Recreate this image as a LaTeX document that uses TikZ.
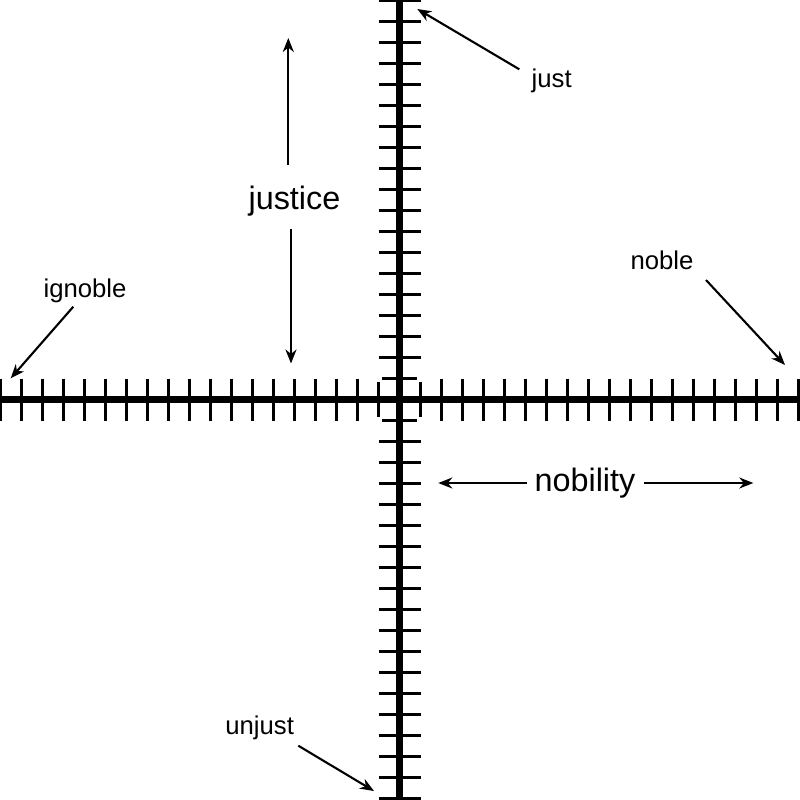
\documentclass[tikz,border=0pt]{standalone}
\usepackage{fontspec}
\setmainfont{Liberation Sans}
\usetikzlibrary{arrows.meta}
\begin{document}
\begin{tikzpicture}[x=1bp,y=-1bp,
  axis/.style={line width=7bp},
  tick/.style={line width=2.7bp},
  pointer/.style={line width=2.1bp,-{Stealth[length=14bp,width=11bp,inset=4.5bp]}},
  small/.style={font=\fontsize{25.8}{30}\selectfont,inner sep=0pt,anchor=base},
  big/.style={font=\fontsize{32.5}{38}\selectfont,inner sep=0pt,anchor=base}]
\useasboundingbox (0,0) rectangle (800,800);
\fill[white] (0,0) rectangle (800,800);
% axes
\draw[axis] (0,399.5) -- (800,399.5);
\draw[axis] (399,0) -- (399,800);
% ticks
\foreach \k in {2,...,19}{
  \draw[tick] (399.5+21*\k,378.5) -- (399.5+21*\k,420.5);
  \draw[tick] (399.5-21*\k,378.5) -- (399.5-21*\k,420.5);
  \draw[tick] (378.5,399.5+21*\k) -- (420.5,399.5+21*\k);
  \draw[tick] (378.5,399.5-21*\k) -- (420.5,399.5-21*\k);
}
\draw[tick] (420.5,382) -- (420.5,417);
\draw[tick] (378.5,382) -- (378.5,417);
\draw[tick] (382,420.5) -- (417,420.5);
\draw[tick] (382,378.5) -- (417,378.5);
% labels
\node[small] (just) at (551.7,87.3) {just};
\node[small] (ignoble) at (85,297.3) {ignoble};
\node[small] (noble) at (662,269.3) {noble};
\node[small] (unjust) at (259.7,734) {unjust};
\node[big] (justice) at (294.5,209) {justice};
\node[big] (nobility) at (585,491.7) {nobility};
% pointer ends
\coordinate (justT) at (519.3,69.3);
\coordinate (justH) at (417.3,9);
\coordinate (ignT) at (73.3,306.7);
\coordinate (ignH) at (10.7,378.3);
\coordinate (nobT) at (706,280);
\coordinate (nobH) at (785,365);
\coordinate (unT) at (298.3,745.7);
\coordinate (unH) at (374,791);
\coordinate (jcUT) at (288.3,165);
\coordinate (jcUH) at (288.3,38);
\coordinate (jcDT) at (291,229.3);
\coordinate (jcDH) at (291,363.5);
\coordinate (nbLT) at (526.7,483);
\coordinate (nbLH) at (438.3,483);
\coordinate (nbRT) at (644,483);
\coordinate (nbRH) at (753.3,483);
\draw[pointer] (justT) -- (justH);
\draw[pointer] (ignT) -- (ignH);
\draw[pointer] (nobT) -- (nobH);
\draw[pointer] (unT) -- (unH);
\draw[pointer] (jcUT) -- (jcUH);
\draw[pointer] (jcDT) -- (jcDH);
\draw[pointer] (nbLT) -- (nbLH);
\draw[pointer] (nbRT) -- (nbRH);
\end{tikzpicture}
\end{document}
